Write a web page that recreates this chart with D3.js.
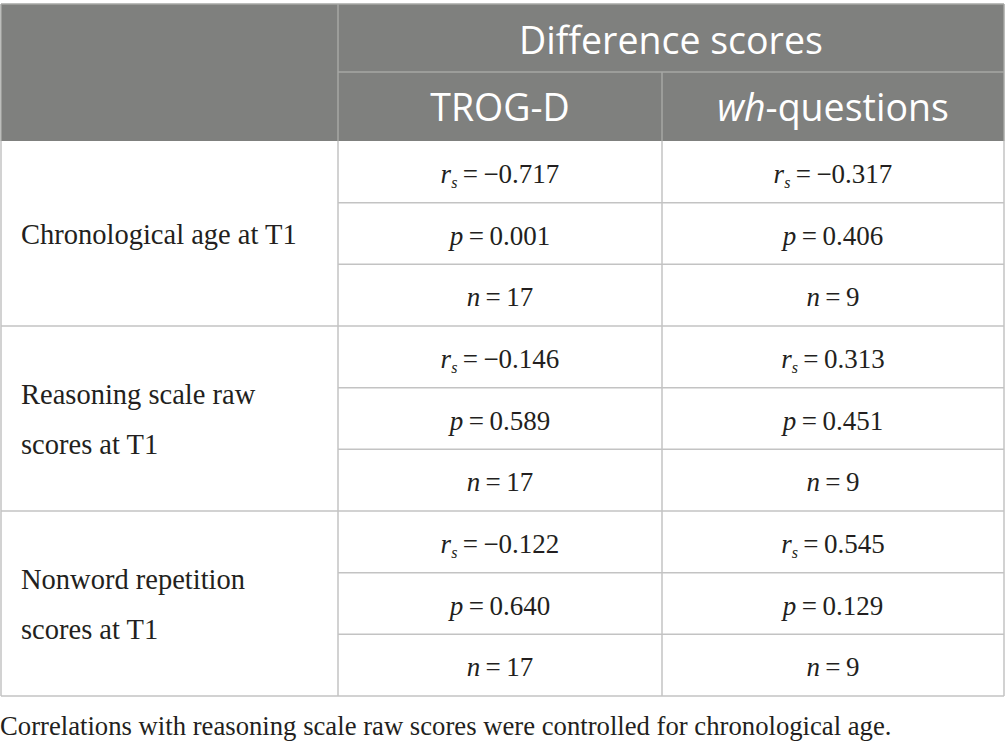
<!DOCTYPE html>
<html><head><meta charset="utf-8">
<script src="https://cdn.jsdelivr.net/npm/d3@7"></script>
<style>html,body{margin:0;padding:0;background:#fff;}svg{display:block;}</style>
</head><body>
<script>
// ---- data ----
const spanHeader = "Difference scores";
const measures = ["TROG-D", "wh-questions"];
const predictors = [
  ["Chronological age at T1"],
  ["Reasoning scale raw", "scores at T1"],
  ["Nonword repetition", "scores at T1"]
];
const trogRs = [-0.717, -0.146, -0.122];
const trogP  = [0.001, 0.589, 0.640];
const trogN  = [17, 17, 17];
const whRs   = [-0.317, 0.313, 0.545];
const whP    = [0.406, 0.451, 0.129];
const whN    = [9, 9, 9];
const footnote = "Correlations with reasoning scale raw scores were controlled for chronological age.";

(function () {
// ---- layout ----
const W = 1005, H = 748;
const svg = d3.select("body").append("svg").attr("width", W).attr("height", H);
const xL = 1, xR = 1004, yTopT = 4, headMid = 72, headBot = 141, yBottom = 696;
const colX = d3.scaleOrdinal().domain(["label", "TROG-D", "wh-questions", "end"]).range([xL, 338, 662, xR]);
const stats = ["rs", "p", "n"];
const subRows = d3.range(predictors.length * stats.length);
const y = d3.scaleBand().domain(subRows).range([headBot, yBottom]);

const hdrBg = "#7f807e", hdrLine = "#a6a7a5", bodyLine = "#c3c3c3", ink = "#231f20";
const serif = "'Liberation Serif', 'Times New Roman', serif";
const sans = "'Open Sans', 'Noto Sans', sans-serif";
const hdrSize = 37.5, cellSize = 27, labelSize = 28.5, noteSize = 26.7;

svg.append("rect").attr("x", xL).attr("y", yTopT).attr("width", xR - xL).attr("height", headBot - yTopT).attr("fill", hdrBg);

const hl = svg.append("g").attr("stroke", hdrLine).attr("stroke-width", 1.5);
hl.append("line").attr("x1", colX("TROG-D")).attr("x2", xR).attr("y1", headMid).attr("y2", headMid);
hl.append("line").attr("x1", colX("TROG-D")).attr("x2", colX("TROG-D")).attr("y1", yTopT).attr("y2", headBot);
hl.append("line").attr("x1", colX("wh-questions")).attr("x2", colX("wh-questions")).attr("y1", headMid).attr("y2", headBot);
hl.append("line").attr("x1", xL).attr("x2", xR).attr("y1", yTopT).attr("y2", yTopT);
hl.append("line").attr("x1", xL).attr("x2", xL).attr("y1", yTopT).attr("y2", headBot);
hl.append("line").attr("x1", xR).attr("x2", xR).attr("y1", yTopT).attr("y2", headBot);

svg.append("text").attr("x", (colX("TROG-D") + xR) / 2).attr("y", 54)
  .attr("text-anchor", "middle").attr("font-family", sans).attr("font-size", hdrSize).attr("fill", "#fff")
  .text(spanHeader);
measures.forEach((m, i) => {
  const x0 = colX(m), x1 = i === 0 ? colX("wh-questions") : colX("end");
  const t = svg.append("text").attr("x", (x0 + x1) / 2).attr("y", 121)
    .attr("text-anchor", "middle").attr("font-family", sans).attr("font-size", hdrSize).attr("fill", "#fff");
  if (m.startsWith("wh")) {
    t.append("tspan").attr("font-style", "italic").text("wh");
    t.append("tspan").text(m.slice(2));
  } else t.text(m);
});

const bl = svg.append("g").attr("stroke", bodyLine).attr("stroke-width", 1.5);
subRows.forEach(r => {
  const yy = y(r) + y.bandwidth();
  const full = (r % 3) === 2;
  bl.append("line").attr("x1", full ? xL : colX("TROG-D")).attr("x2", xR).attr("y1", yy).attr("y2", yy);
});
["TROG-D", "wh-questions"].forEach(c => bl.append("line").attr("x1", colX(c)).attr("x2", colX(c)).attr("y1", headBot).attr("y2", yBottom));
bl.append("line").attr("x1", xL).attr("x2", xL).attr("y1", headBot).attr("y2", yBottom);
bl.append("line").attr("x1", xR).attr("x2", xR).attr("y1", headBot).attr("y2", yBottom);

const lineH = 50;
predictors.forEach((lines, g) => {
  const y0 = y(g * 3), y1 = y(g * 3 + 2) + y.bandwidth();
  const mid = (y0 + y1) / 2;
  const t = svg.append("text").attr("font-family", serif).attr("font-size", labelSize).attr("fill", ink);
  lines.forEach((ln, k) => {
    t.append("tspan").attr("x", 21).attr("y", mid + 10 + (k - (lines.length - 1) / 2) * lineH).text(ln);
  });
});

const fmt = d3.format(".3f");
const signed = v => (v < 0 ? "\u2212" : "") + fmt(Math.abs(v));
function cell(x, yy, kind, v) {
  const t = svg.append("text").attr("x", x).attr("y", yy).attr("text-anchor", "middle")
    .attr("font-family", serif).attr("font-size", cellSize).attr("fill", ink);
  if (kind === "rs") {
    t.append("tspan").attr("font-style", "italic").text("r");
    t.append("tspan").attr("font-style", "italic").attr("font-size", 16).attr("dy", 5).text("s");
    t.append("tspan").attr("dy", -5).text("\u2009=\u2009" + signed(v));
  } else {
    t.append("tspan").attr("font-style", "italic").text(kind);
    t.append("tspan").text("\u2009=\u2009" + (kind === "p" ? fmt(v) : v));
  }
}
const cols = [
  {c: "TROG-D", next: "wh-questions", rs: trogRs, p: trogP, n: trogN},
  {c: "wh-questions", next: "end", rs: whRs, p: whP, n: whN}
];
cols.forEach(col => {
  const cx = (colX(col.c) + colX(col.next)) / 2;
  predictors.forEach((_, g) => {
    stats.forEach((s, k) => {
      const r = g * 3 + k;
      cell(cx, y(r) + y.bandwidth() / 2 + 11, s, col[s][g]);
    });
  });
});

svg.append("text").attr("x", 0).attr("y", 735).attr("font-family", serif).attr("font-size", noteSize).attr("fill", ink).text(footnote);
})();
</script>
</body></html>
